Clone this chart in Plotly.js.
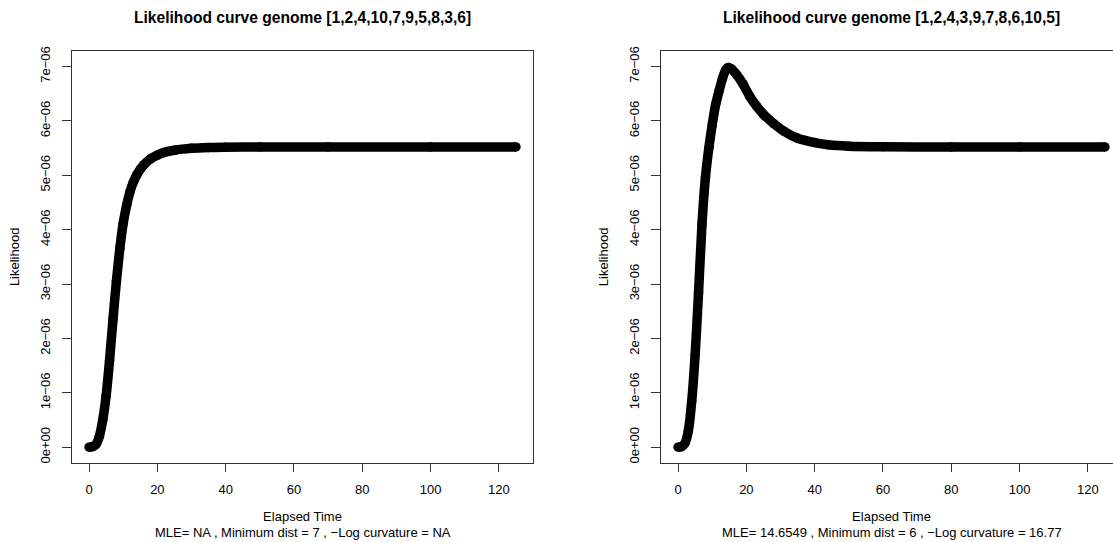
<!DOCTYPE html>
<html>
<head>
<meta charset="utf-8">
<script src="https://cdn.plot.ly/plotly-3.0.1.min.js"></script>
<style>
html,body{margin:0;padding:0;overflow:hidden;background:#fff;}
#chart{width:1160px;height:542px;}
</style>
</head>
<body>
<div id="chart"></div>
<script>
// ---- Data ----
var leftTitle = "Likelihood curve genome [1,2,4,10,7,9,5,8,3,6]";
var rightTitle = "Likelihood curve genome [1,2,4,3,9,7,8,6,10,5]";
var leftSub = "MLE= NA , Minimum dist = 7 , \u2212Log curvature = NA";
var rightSub = "MLE= 14.6549 , Minimum dist = 6 , \u2212Log curvature = 16.77";

// elapsed time samples and likelihood (x 1e-6) for genome 1
var leftTime = [0, 1, 2, 3, 4, 5, 6, 7, 8, 9, 10, 11, 12, 13, 14, 15, 16, 18, 20, 22, 25, 30, 35, 40, 50, 70, 100, 125];
var leftLik  = [0, 0.01, 0.05, 0.2, 0.5, 0.95, 1.6, 2.35, 3.05, 3.65, 4.12, 4.45, 4.7, 4.88, 5.01, 5.11, 5.19, 5.3, 5.37, 5.42, 5.46, 5.495, 5.51, 5.515, 5.52, 5.52, 5.52, 5.52];

// genome 2
var rightTime = [0, 1, 2, 3, 4, 5, 6, 7, 8, 9, 10, 11, 12, 13, 14, 14.65, 15.5, 17, 19, 21, 23, 25, 28, 31, 35, 40, 44, 50, 60, 80, 100, 125];
var rightLik  = [0, 0.01, 0.07, 0.3, 0.85, 1.7, 2.85, 4.1, 4.95, 5.5, 5.93, 6.3, 6.55, 6.78, 6.94, 6.98, 6.96, 6.86, 6.68, 6.45, 6.27, 6.12, 5.95, 5.81, 5.68, 5.6, 5.56, 5.535, 5.525, 5.52, 5.52, 5.52];

var xTicks = [0, 20, 40, 60, 80, 100, 120];
var yTicks = [0, 1, 2, 3, 4, 5, 6, 7];
var yTickText = ["0e+00", "1e\u221206", "2e\u221206", "3e\u221206", "4e\u221206", "5e\u221206", "6e\u221206", "7e\u221206"];

function scale(arr){ return arr.map(function(v){ return v * 1e-6; }); }

// ---- Layout geometry (pixels) ----
var W = 1160, H = 542;
var boxTop = 50.7, boxBottom = 463;
var leftBox = [72, 533], rightBox = [661, 1122];
function fx(px){ return px / W; }
function fy(py){ return 1 - py / H; }

var FONT = "Liberation Sans, Arial, Helvetica, sans-serif";
var AX = 13;

var curveStyle = {
  mode: "lines+markers",
  line: {color: "#000", width: 9.5, shape: "spline", smoothing: 0.6},
  marker: {color: "#000", size: 9.5},
  hoverinfo: "x+y",
  showlegend: false
};

var traces = [
  Object.assign({x: leftTime, y: scale(leftLik), xaxis: "x", yaxis: "y"}, JSON.parse(JSON.stringify(curveStyle))),
  Object.assign({x: rightTime, y: scale(rightLik), xaxis: "x2", yaxis: "y2"}, JSON.parse(JSON.stringify(curveStyle)))
];

function xAxis(dom, anchor){
  return {
    domain: dom, anchor: anchor, range: [-5, 130],
    tickmode: "array", tickvals: xTicks, ticktext: xTicks.map(String),
    ticks: "outside", ticklen: 8, tickwidth: 1, tickcolor: "#333",
    showline: true, linecolor: "#333", linewidth: 1, mirror: true,
    showgrid: false, zeroline: false,
    tickfont: {family: FONT, size: AX, color: "#000"},
    ticklabelstandoff: 6,
    title: {text: "Elapsed Time", font: {family: FONT, size: AX, color: "#000"}, standoff: 16}
  };
}
function yAxis(dom, anchor){
  return {
    domain: dom, anchor: anchor, range: [-0.29e-6, 7.29e-6],
    tickmode: "array", tickvals: scale(yTicks), ticktext: yTickText,
    tickangle: -90,
    ticks: "outside", ticklen: 9, tickwidth: 1, tickcolor: "#333",
    showline: true, linecolor: "#333", linewidth: 1, mirror: true,
    showgrid: false, zeroline: false,
    tickfont: {family: FONT, size: AX, color: "#000"},
    ticklabelstandoff: 7,
    title: {text: "Likelihood", font: {family: FONT, size: AX, color: "#000"}, standoff: 15}
  };
}

var yDom = [fy(boxBottom), fy(boxTop)];
var layout = {
  width: W, height: H,
  margin: {l: 0, r: 0, t: 0, b: 0, pad: 0},
  paper_bgcolor: "#fff", plot_bgcolor: "#fff",
  font: {family: FONT, color: "#000"},
  showlegend: false,
  xaxis: xAxis([fx(leftBox[0]), fx(leftBox[1])], "y"),
  yaxis: yAxis(yDom, "x"),
  xaxis2: xAxis([fx(rightBox[0]), fx(rightBox[1])], "y2"),
  yaxis2: yAxis(yDom, "x2"),
  annotations: [
    {text: "<b>" + leftTitle + "</b>", x: fx((leftBox[0] + leftBox[1]) / 2), y: fy(17), xref: "paper", yref: "paper", xanchor: "center", yanchor: "middle", showarrow: false, font: {family: FONT, size: 15.6, color: "#000"}},
    {text: "<b>" + rightTitle + "</b>", x: fx((rightBox[0] + rightBox[1]) / 2), y: fy(17), xref: "paper", yref: "paper", xanchor: "center", yanchor: "middle", showarrow: false, font: {family: FONT, size: 15.6, color: "#000"}},
    {text: leftSub, x: fx((leftBox[0] + leftBox[1]) / 2), y: fy(532), xref: "paper", yref: "paper", xanchor: "center", yanchor: "middle", showarrow: false, font: {family: FONT, size: AX, color: "#000"}},
    {text: rightSub, x: fx((rightBox[0] + rightBox[1]) / 2), y: fy(532), xref: "paper", yref: "paper", xanchor: "center", yanchor: "middle", showarrow: false, font: {family: FONT, size: AX, color: "#000"}}
  ]
};

Plotly.newPlot("chart", traces, layout, {displayModeBar: false, staticPlot: true});
</script>
</body>
</html>
